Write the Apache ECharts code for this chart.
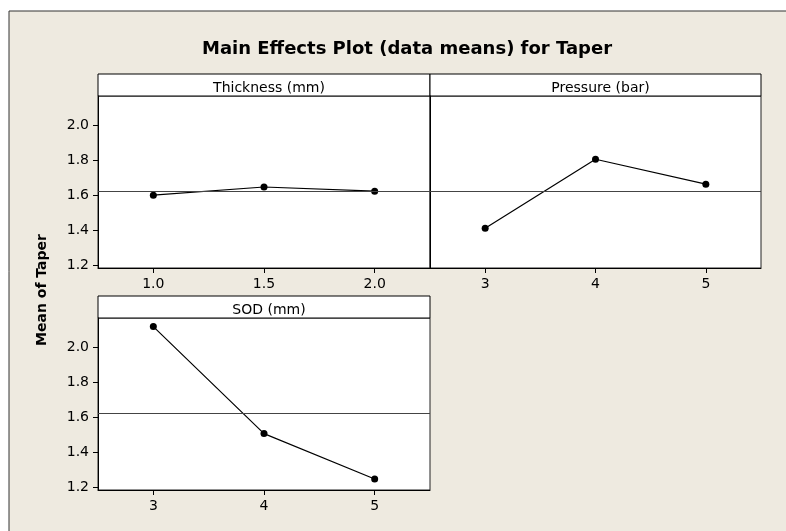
<!DOCTYPE html>
<html><head><meta charset="utf-8">
<script src="https://cdn.jsdelivr.net/npm/echarts@6/dist/echarts.min.js"></script>
<style>html,body{margin:0;padding:0;background:#fff}#c{width:786px;height:531px}</style>
</head><body><div id="c"></div>
<script>
const chartTitle = 'Main Effects Plot (data means) for Taper';
const yName = 'Mean of Taper';
const panelTitles = ['Thickness (mm)', 'Pressure (bar)', 'SOD (mm)'];
const thicknessLevels = ['1.0', '1.5', '2.0'];
const pressureLevels = ['3', '4', '5'];
const sodLevels = ['3', '4', '5'];
const thicknessMeans = [1.600, 1.647, 1.623];
const pressureMeans = [1.411, 1.806, 1.663];
const sodMeans = [2.119, 1.506, 1.246];
const grandMean = 1.623;
const yTicks = [1.2, 1.4, 1.6, 1.8, 2.0];
const yMin = 1.183, yMax = 2.168;

const FONT = 'DejaVu Sans';
const bg = '#EEEAE0';

const panels = [
  {left: 98, top: 96, width: 332, height: 172, levels: thicknessLevels, means: thicknessMeans, showY: true},
  {left: 430, top: 96, width: 331, height: 172, levels: pressureLevels, means: pressureMeans, showY: false},
  {left: 98, top: 318, width: 332, height: 172, levels: sodLevels, means: sodMeans, showY: true}
];
const headers = [
  {left: 98, top: 74, width: 332, height: 22},
  {left: 430, top: 74, width: 331, height: 22},
  {left: 98, top: 296, width: 332, height: 22}
];

const grid = [], xAxis = [], yAxis = [], series = [], titles = [];
titles.push({text: chartTitle, left: 402, top: 35, textAlign: 'center',
  textStyle: {fontFamily: FONT, fontSize: 18, fontWeight: 'bold', color: '#000'}});

panels.forEach((p, i) => {
  grid.push({left: p.left, top: p.top, width: p.width, height: p.height, show: true,
    backgroundColor: '#fff', borderColor: '#222', borderWidth: 1, containLabel: false});
  xAxis.push({type: 'category', gridIndex: i, data: p.levels, boundaryGap: true,
    axisLine: {show: true, lineStyle: {color: '#000'}},
    axisTick: {show: true, alignWithLabel: true, inside: false, length: 5, lineStyle: {color: '#000'}},
    axisLabel: {show: true, margin: 9, fontFamily: FONT, fontSize: 14, color: '#000'},
    splitLine: {show: false}});
  yAxis.push({type: 'value', gridIndex: i, min: yMin, max: yMax,
    axisLine: {show: true, lineStyle: {color: '#000'}},
    axisTick: {show: p.showY, inside: false, length: 5, lineStyle: {color: '#000'}, customValues: yTicks},
    axisLabel: {show: p.showY, margin: 9, fontFamily: FONT, fontSize: 14, color: '#000',
      customValues: yTicks, formatter: v => v.toFixed(1)},
    splitLine: {show: false}});
  series.push({type: 'line', xAxisIndex: i, yAxisIndex: i, data: p.means,
    symbol: 'circle', symbolSize: 7, itemStyle: {color: '#000'},
    lineStyle: {color: '#000', width: 1.2}, silent: true, animation: false,
    markLine: {silent: true, symbol: 'none', label: {show: false},
      lineStyle: {color: '#444', width: 1, type: 'solid'},
      data: [{yAxis: grandMean}]}});
});
headers.forEach((h, k) => {
  const gi = grid.length;
  grid.push({left: h.left, top: h.top, width: h.width, height: h.height, show: true,
    backgroundColor: '#fff', borderColor: '#000', borderWidth: 1});
  xAxis.push({type: 'value', gridIndex: gi, show: false});
  yAxis.push({type: 'value', gridIndex: gi, show: false});
  titles.push({text: panelTitles[k], left: h.left + h.width / 2, top: h.top + 2, textAlign: 'center',
    textStyle: {fontFamily: FONT, fontSize: 14, fontWeight: 'normal', color: '#000'}});
});

const chart = echarts.init(document.getElementById('c'), null, {renderer: 'canvas'});
chart.setOption({
  backgroundColor: '#fff',
  animation: false,
  title: titles,
  grid, xAxis, yAxis, series,
  graphic: [
    {type: 'rect', z: -10, shape: {x: 9, y: 11, width: 800, height: 540},
      style: {fill: bg, stroke: '#333', lineWidth: 1}},
    {type: 'text', x: 42, y: 290, rotation: Math.PI / 2,
      style: {text: yName, fontFamily: FONT, fontSize: 14, fontWeight: 'bold', fill: '#000',
        align: 'center', verticalAlign: 'middle'}}
  ]
});
</script></body></html>
